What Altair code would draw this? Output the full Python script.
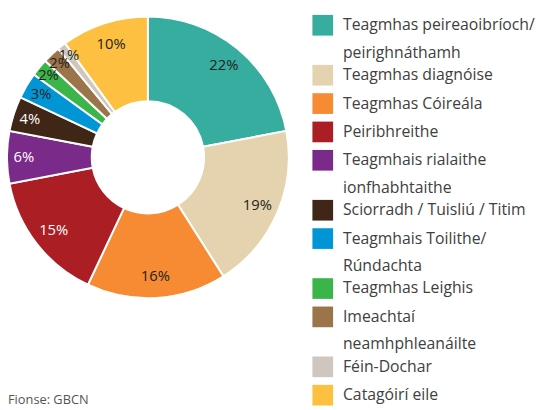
import altair as alt
import pandas as pd

categories = [
    "Teagmhas peireaoibríoch/\npeirighnáthamh",
    "Teagmhas diagnóise",
    "Teagmhas Cóireála",
    "Peiribhreithe",
    "Teagmhais rialaithe\nionfhabhtaithe",
    "Sciorradh / Tuisliú / Titim",
    "Teagmhais Toilithe/\nRúndachta",
    "Teagmhas Leighis",
    "Imeachtaí\nneamhphleanáilte",
    "Féin-Dochar",
    "Catagóirí eile",
]
values = [22, 19, 16, 15, 6, 4, 3, 2, 2, 1, 10]
colors = [
    "#36ad9f", "#e5d2ae", "#f68b33", "#ab1e24", "#7a2a88", "#3f2616",
    "#0096d6", "#3bb54a", "#9b7549", "#cfc7bf", "#fdc041",
]
white_label_cats = ["Peiribhreithe", "Teagmhais rialaithe\nionfhabhtaithe",
                    "Sciorradh / Tuisliú / Titim"]
source_note = "Fionse: GBCN"

# build table
rows = []
lines_before = 0
for i, (c, v) in enumerate(zip(categories, values)):
    parts = c.split("\n")
    rows.append({
        "cat": c,
        "value": v,
        "order": i,
        "pct": f"{v}%",
        "line1": parts[0],
        "line2": parts[1] if len(parts) > 1 else "",
        "slot": lines_before + 0.312 * i,
    })
    lines_before += len(parts)
df = pd.DataFrame(rows)
max_slot = df["slot"].max()

FONT = "Open Sans"
CX, CY = 142, 148.5

color_scale = alt.Scale(domain=categories, range=colors)
theta_scale = alt.Scale(domain=[0, 1], range=[0, 6.283185307179586])

base = alt.Chart(df)
polar = base.transform_window(
    cum="sum(value)", sort=[alt.SortField("order", order="ascending")], frame=[None, 0]
).transform_joinaggregate(
    total="sum(value)"
).transform_calculate(
    t0="(datum.cum - datum.value) / datum.total",
    t1="datum.cum / datum.total",
    tm="(datum.cum - datum.value / 2) / datum.total",
    r="datum.value <= 2 ? 131 : (datum.value <= 6 ? 126 : 121)",
)

arcs = polar.mark_arc(innerRadius=57, outerRadius=143, stroke="white", strokeWidth=2).encode(
    theta=alt.Theta("t0:Q", scale=theta_scale),
    theta2="t1:Q",
    color=alt.Color("cat:N", scale=color_scale, legend=None),
    x=alt.value(CX),
    y=alt.value(CY),
)

labels = polar.mark_text(font=FONT, fontSize=15, align="center", baseline="middle").encode(
    theta=alt.Theta("tm:Q", scale=theta_scale),
    radius=alt.Radius("r:Q", scale=None),
    text="pct:N",
    color=alt.condition(alt.FieldOneOfPredicate(field="cat", oneOf=white_label_cats),
                        alt.value("white"), alt.value("#231f20")),
    x=alt.value(CX),
    y=alt.value(CY),
)

yscale = alt.Scale(domain=[0, max_slot], range=[14.5, 390])

swatches = base.mark_square(size=441, opacity=1).encode(
    x=alt.value(319.5),
    y=alt.Y("slot:Q", scale=yscale, axis=None),
    color=alt.Color("cat:N", scale=color_scale, legend=None),
)

leg1 = base.mark_text(font=FONT, fontSize=16, align="left", baseline="middle", color="#404040").encode(
    x=alt.value(340),
    y=alt.Y("slot:Q", scale=yscale, axis=None),
    text="line1:N",
)
leg2 = base.transform_filter("datum.line2 != ''").mark_text(
    font=FONT, fontSize=16, align="left", baseline="middle", color="#404040", dy=28
).encode(
    x=alt.value(340),
    y=alt.Y("slot:Q", scale=yscale, axis=None),
    text="line2:N",
)

note = alt.Chart(pd.DataFrame({"t": [source_note]})).mark_text(
    font=FONT, fontSize=13, align="left", baseline="alphabetic", color="#555555"
).encode(x=alt.value(0), y=alt.value(399), text="t:N")

chart = alt.layer(arcs, labels, swatches, leg1, leg2, note).properties(
    width=539, height=402, padding=0, autosize=alt.AutoSizeParams(type="none")
).configure_view(stroke=None)

chart.save("out.html", embed_options={"renderer": "svg", "actions": False})
